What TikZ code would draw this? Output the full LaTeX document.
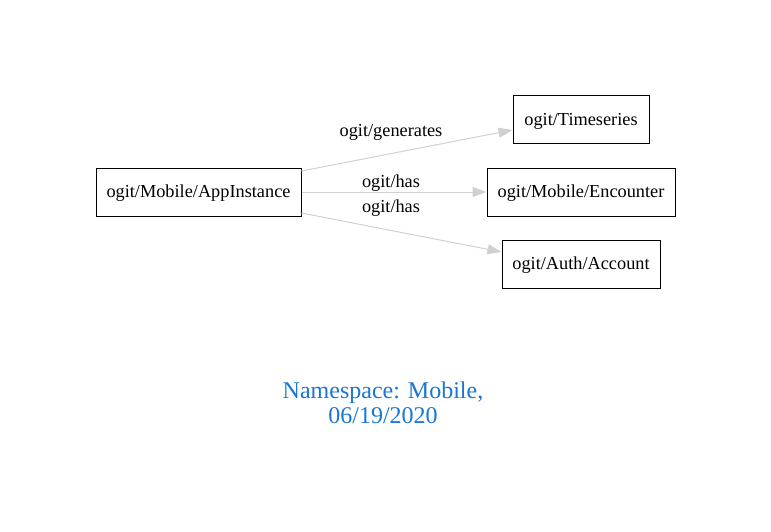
\documentclass[tikz,border=0pt]{standalone}
\usepackage{fontspec}
\setmainfont{Liberation Serif}
\usetikzlibrary{arrows.meta}
\definecolor{edgegray}{HTML}{D0D0D0}
\definecolor{titleblue}{HTML}{1976D2}
\begin{document}
\begin{tikzpicture}[x=1pt,y=-1pt,
  box/.style={draw=black,line width=1pt,minimum height=48pt,inner sep=0pt,text height=13pt,text depth=2pt,font=\fontsize{18.3}{22}\selectfont},
  rel/.style={draw=edgegray,line width=1pt,-{Triangle[length=14pt,width=10pt]}},
  lbl/.style={font=\fontsize{18.3}{22}\selectfont,inner sep=0pt}]
\useasboundingbox (0,0) rectangle (771,532);
\node[box,minimum width=205pt] (a) at (198.5,192) {ogit/Mobile/AppInstance};
\node[box,minimum width=136pt] (t) at (581,120) {ogit/Timeseries};
\node[box,minimum width=188pt] (e) at (581,192) {ogit/Mobile/Encounter};
\node[box,minimum width=158pt] (c) at (581,264) {ogit/Auth/Account};
\draw[rel] ([yshift=21pt]a.east) -- ([yshift=-10pt]t.west);
\draw[rel] (a.east) -- (e.west);
\draw[rel] ([yshift=-21pt]a.east) -- ([yshift=12pt]c.west);
\node[lbl] (l1) at (391,132) {ogit/generates};
\node[lbl] (l2) at (391,183) {ogit/has};
\node[lbl] (l3) at (391,208) {ogit/has};
\node[font=\fontsize{24}{25}\selectfont,text=titleblue,align=center,inner sep=0pt] (title) at (383,403) {Namespace: Mobile,\\06/19/2020};
\end{tikzpicture}
\end{document}
